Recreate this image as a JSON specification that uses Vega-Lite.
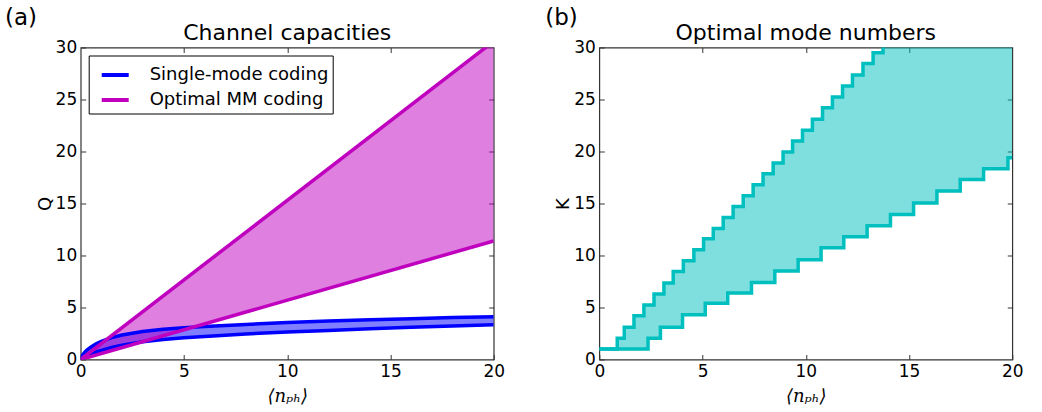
{
  "$schema": "https://vega.github.io/schema/vega-lite/v6.json",
  "padding": {"left": 3.7, "top": 5.5, "right": 5, "bottom": 0},
  "background": "white",
  "config": {
    "font": "DejaVu Sans",
    "view": {"stroke": "#333", "strokeWidth": 1.2},
    "axis": {
      "labelFont": "DejaVu Sans", "labelFontSize": 17, "labelColor": "#000",
      "labelFlush": false, "labelOverlap": false,
      "titleFont": "DejaVu Sans", "titleFontSize": 18, "titleFontWeight": "normal", "titleColor": "#000",
      "grid": false, "domain": false, "tickColor": "#333", "tickSize": -5, "labelPadding": 9
    },
    "title": {"font": "DejaVu Sans", "fontSize": 22, "fontWeight": "normal", "color": "#000", "frame": "group"}
  },
  "datasets": {
    "capacity": [
      {"series": "Single-mode coding", "n": 0, "lo": 0, "hi": 0},
      {"series": "Single-mode coding", "n": 0.05, "lo": 0.08, "hi": 0.3},
      {"series": "Single-mode coding", "n": 0.1, "lo": 0.15, "hi": 0.45},
      {"series": "Single-mode coding", "n": 0.2, "lo": 0.28, "hi": 0.7},
      {"series": "Single-mode coding", "n": 0.3, "lo": 0.38, "hi": 0.9},
      {"series": "Single-mode coding", "n": 0.5, "lo": 0.55, "hi": 1.2},
      {"series": "Single-mode coding", "n": 0.75, "lo": 0.72, "hi": 1.5},
      {"series": "Single-mode coding", "n": 1, "lo": 0.88, "hi": 1.75},
      {"series": "Single-mode coding", "n": 1.5, "lo": 1.15, "hi": 2.1},
      {"series": "Single-mode coding", "n": 2, "lo": 1.38, "hi": 2.35},
      {"series": "Single-mode coding", "n": 3, "lo": 1.7, "hi": 2.7},
      {"series": "Single-mode coding", "n": 4, "lo": 1.92, "hi": 2.9},
      {"series": "Single-mode coding", "n": 5, "lo": 2.08, "hi": 3.05},
      {"series": "Single-mode coding", "n": 6, "lo": 2.22, "hi": 3.17},
      {"series": "Single-mode coding", "n": 8, "lo": 2.45, "hi": 3.37},
      {"series": "Single-mode coding", "n": 10, "lo": 2.65, "hi": 3.55},
      {"series": "Single-mode coding", "n": 12, "lo": 2.8, "hi": 3.7},
      {"series": "Single-mode coding", "n": 14, "lo": 2.95, "hi": 3.82},
      {"series": "Single-mode coding", "n": 16, "lo": 3.1, "hi": 3.93},
      {"series": "Single-mode coding", "n": 18, "lo": 3.22, "hi": 4.03},
      {"series": "Single-mode coding", "n": 20, "lo": 3.35, "hi": 4.12},
      {"series": "Optimal MM coding", "n": 0, "lo": 0, "hi": 0},
      {"series": "Optimal MM coding", "n": 20, "lo": 11.4, "hi": 30.6}
    ],
    "modes": [
      {"n": 0, "lo": 1.0, "hi": 1.0},
      {"n": 0.87, "lo": 1.0, "hi": 2.05},
      {"n": 1.21, "lo": 1.0, "hi": 3.1},
      {"n": 1.68, "lo": 1.0, "hi": 4.2},
      {"n": 2.16, "lo": 1.0, "hi": 5.25},
      {"n": 2.36, "lo": 2.05, "hi": 5.25},
      {"n": 2.65, "lo": 2.05, "hi": 6.3},
      {"n": 2.96, "lo": 3.1, "hi": 6.3},
      {"n": 3.13, "lo": 3.1, "hi": 7.35},
      {"n": 3.58, "lo": 3.1, "hi": 8.45},
      {"n": 4.03, "lo": 4.3, "hi": 8.45},
      {"n": 4.07, "lo": 4.3, "hi": 9.5},
      {"n": 4.58, "lo": 4.3, "hi": 10.55},
      {"n": 5.05, "lo": 4.3, "hi": 11.6},
      {"n": 5.13, "lo": 5.4, "hi": 11.6},
      {"n": 5.52, "lo": 5.4, "hi": 12.6},
      {"n": 6.0, "lo": 5.4, "hi": 13.65},
      {"n": 6.22, "lo": 6.4, "hi": 13.65},
      {"n": 6.48, "lo": 6.4, "hi": 14.7},
      {"n": 6.97, "lo": 6.4, "hi": 15.75},
      {"n": 7.37, "lo": 7.4, "hi": 15.75},
      {"n": 7.45, "lo": 7.4, "hi": 16.8},
      {"n": 7.93, "lo": 7.4, "hi": 17.85},
      {"n": 8.42, "lo": 7.4, "hi": 18.9},
      {"n": 8.5, "lo": 8.5, "hi": 18.9},
      {"n": 8.9, "lo": 8.5, "hi": 19.95},
      {"n": 9.36, "lo": 8.5, "hi": 21.0},
      {"n": 9.63, "lo": 9.6, "hi": 21.0},
      {"n": 9.84, "lo": 9.6, "hi": 22.05},
      {"n": 10.32, "lo": 9.6, "hi": 23.1},
      {"n": 10.74, "lo": 10.75, "hi": 23.1},
      {"n": 10.81, "lo": 10.75, "hi": 24.2},
      {"n": 11.29, "lo": 10.75, "hi": 25.25},
      {"n": 11.78, "lo": 10.75, "hi": 26.3},
      {"n": 11.84, "lo": 11.8, "hi": 26.3},
      {"n": 12.26, "lo": 11.8, "hi": 27.35},
      {"n": 12.77, "lo": 11.8, "hi": 28.45},
      {"n": 12.97, "lo": 12.85, "hi": 28.45},
      {"n": 13.26, "lo": 12.85, "hi": 29.5},
      {"n": 13.74, "lo": 12.85, "hi": 30.6},
      {"n": 14.1, "lo": 13.95, "hi": 30.6},
      {"n": 15.22, "lo": 15.05, "hi": 30.6},
      {"n": 16.35, "lo": 16.2, "hi": 30.6},
      {"n": 17.48, "lo": 17.3, "hi": 30.6},
      {"n": 18.61, "lo": 18.35, "hi": 30.6},
      {"n": 19.79, "lo": 19.4, "hi": 30.6},
      {"n": 20, "lo": 19.4, "hi": 30.6}
    ]
  },
  "spacing": 38.6,
  "hconcat": [
    {
      "width": 413,
      "height": 312,
      "title": {"text": "Channel capacities", "offset": -38.5},
      "resolve": {"axis": {"x": "independent", "y": "independent"}},
      "layer": [
        {
          "data": {"name": "capacity"},
          "transform": [{"filter": "datum.series === 'Single-mode coding'"}],
          "mark": {"type": "area", "color": "#0000ff", "opacity": 0.5, "clip": true},
          "encoding": {
            "x": {"field": "n", "type": "quantitative", "scale": {"domain": [0, 20], "nice": false},
                  "axis": {"values": [0, 5, 10, 15, 20], "title": "⟨nₚₕ⟩", "titleFont": "DejaVu Serif", "titleFontStyle": "italic", "titlePadding": 8}},
            "y": {"field": "lo", "type": "quantitative", "scale": {"domain": [0, 30], "nice": false},
                  "axis": {"values": [0, 5, 10, 15, 20, 25, 30], "title": "Q", "titlePadding": 1}},
            "y2": {"field": "hi"}
          }
        },
        {
          "data": {"name": "capacity"},
          "transform": [{"filter": "datum.series === 'Optimal MM coding'"}],
          "mark": {"type": "area", "color": "#bf00bf", "opacity": 0.5, "clip": true},
          "encoding": {
            "x": {"field": "n", "type": "quantitative", "axis": null},
            "y": {"field": "lo", "type": "quantitative", "axis": null},
            "y2": {"field": "hi"}
          }
        },
        {
          "data": {"name": "capacity"},
          "transform": [{"fold": ["lo", "hi"], "as": ["edge", "Q"]}],
          "mark": {"type": "line", "strokeWidth": 3.5, "clip": true},
          "encoding": {
            "x": {"field": "n", "type": "quantitative", "axis": null},
            "y": {"field": "Q", "type": "quantitative", "axis": null},
            "detail": {"field": "edge"},
            "color": {
              "field": "series", "type": "nominal",
              "scale": {"domain": ["Single-mode coding", "Optimal MM coding"], "range": ["#0000ff", "#bf00bf"]},
              "legend": {
                "title": null, "orient": "top-left", "offset": 8,
                "strokeColor": "#000", "fillColor": "#fff", "padding": 4, "cornerRadius": 0,
                "labelFont": "DejaVu Sans", "labelFontSize": 18, "labelColor": "#000", "labelLimit": 400,
                "symbolType": "stroke", "symbolStrokeWidth": 4, "symbolSize": 729,
                "labelOffset": 19, "rowPadding": 0, "symbolOffset": 7
              }
            }
          }
        },
        {
          "data": {"values": [{"panel": "(a)"}]},
          "mark": {"type": "text", "fontSize": 23, "font": "DejaVu Sans", "align": "center", "baseline": "alphabetic", "clip": false},
          "encoding": {
            "x": {"datum": -2.89, "type": "quantitative", "scale": {"domain": [0, 20], "nice": false},
                  "axis": {"orient": "top", "values": [5, 10, 15], "labels": false, "title": null}},
            "y": {"datum": 32.2, "type": "quantitative", "scale": {"domain": [0, 30], "nice": false},
                  "axis": {"orient": "right", "values": [5, 10, 15, 20, 25], "labels": false, "title": null}},
            "text": {"field": "panel"}
          }
        }
      ]
    },
    {
      "width": 413,
      "height": 312,
      "title": {"text": "Optimal mode numbers", "offset": -38.5},
      "resolve": {"axis": {"x": "independent", "y": "independent"}},
      "layer": [
        {
          "data": {"name": "modes"},
          "mark": {"type": "area", "color": "#00bfbf", "opacity": 0.5, "interpolate": "step-after", "clip": true},
          "encoding": {
            "x": {"field": "n", "type": "quantitative", "scale": {"domain": [0, 20], "nice": false},
                  "axis": {"values": [0, 5, 10, 15, 20], "title": "⟨nₚₕ⟩", "titleFont": "DejaVu Serif", "titleFontStyle": "italic", "titlePadding": 8}},
            "y": {"field": "lo", "type": "quantitative", "scale": {"domain": [0, 30], "nice": false},
                  "axis": {"values": [0, 5, 10, 15, 20, 25, 30], "title": "K", "titlePadding": 1}},
            "y2": {"field": "hi"}
          }
        },
        {
          "data": {"name": "modes"},
          "transform": [{"fold": ["lo", "hi"], "as": ["edge", "K"]}],
          "mark": {"type": "line", "color": "#00bfbf", "strokeWidth": 3.5, "interpolate": "step-after", "clip": true},
          "encoding": {
            "x": {"field": "n", "type": "quantitative", "axis": null},
            "y": {"field": "K", "type": "quantitative", "axis": null},
            "detail": {"field": "edge"}
          }
        },
        {
          "data": {"values": [{"panel": "(b)"}]},
          "mark": {"type": "text", "fontSize": 23, "font": "DejaVu Sans", "align": "center", "baseline": "alphabetic", "clip": false},
          "encoding": {
            "x": {"datum": -1.83, "type": "quantitative", "scale": {"domain": [0, 20], "nice": false},
                  "axis": {"orient": "top", "values": [5, 10, 15], "labels": false, "title": null}},
            "y": {"datum": 32.2, "type": "quantitative", "scale": {"domain": [0, 30], "nice": false},
                  "axis": {"orient": "right", "values": [5, 10, 15, 20, 25], "labels": false, "title": null}},
            "text": {"field": "panel"}
          }
        }
      ]
    }
  ]
}
